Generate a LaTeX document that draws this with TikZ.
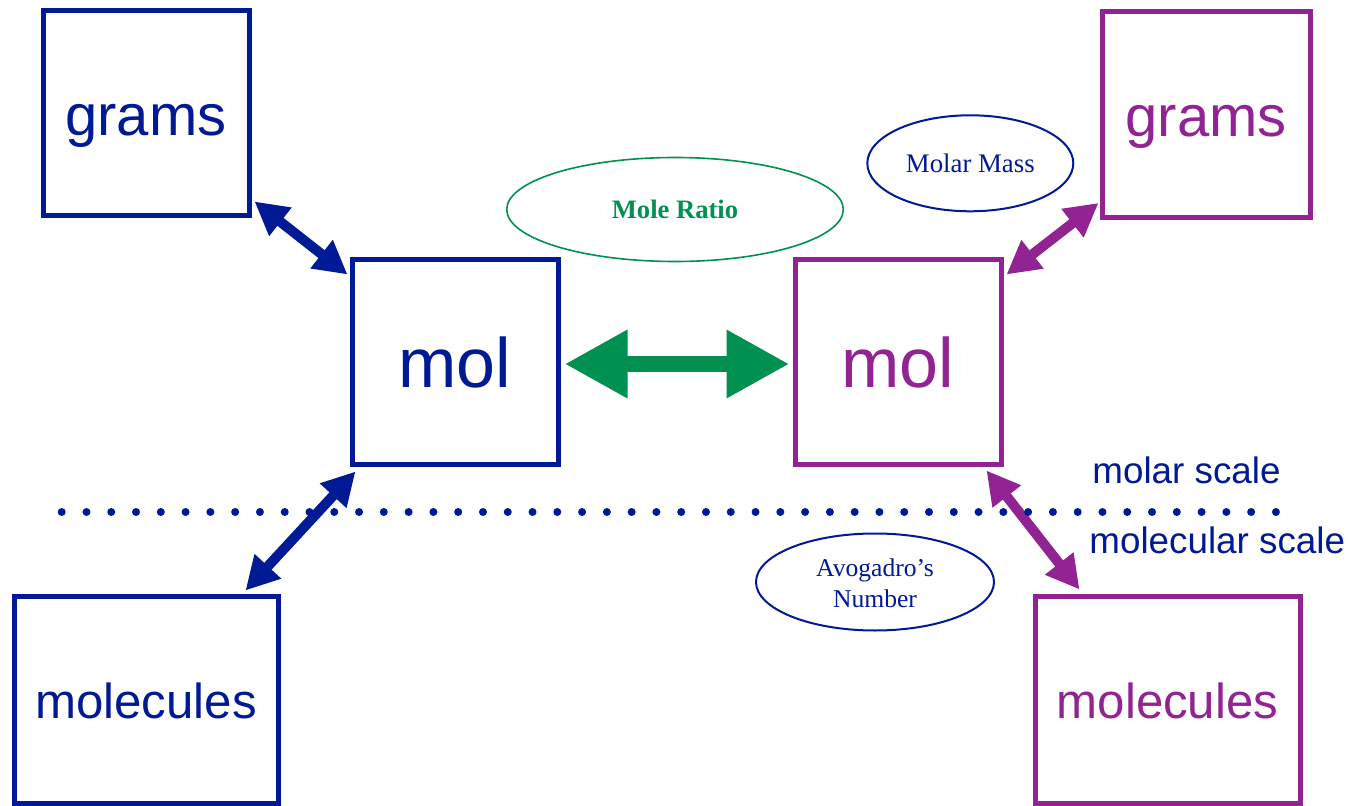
\documentclass[tikz,border=0pt]{standalone}
\usepackage{fontspec}
\setmainfont{Liberation Serif}
\setsansfont{Liberation Sans}
\usetikzlibrary{arrows.meta,shapes.geometric,calc}
\definecolor{cblue}{RGB}{0,25,148}
\definecolor{cpurple}{RGB}{146,35,146}
\definecolor{cgreen}{RGB}{0,145,80}
\begin{document}
\begin{tikzpicture}[x=0.5pt,y=-0.5pt,
  box/.style={draw, line width=2.5pt, inner sep=0pt, font=\sffamily},
  gramsbox/.style={box, minimum width=104pt, minimum height=103pt, text height=28pt, font=\sffamily\fontsize{29}{34}\selectfont},
  molbox/.style={box, minimum width=103pt, minimum height=102.5pt, font=\sffamily\fontsize{35}{40}\selectfont},
  molcbox/.style={box, minimum width=132.5pt, minimum height=103.5pt, text height=19.5pt, font=\sffamily\fontsize{24.6}{29}\selectfont},
  oval/.style={ellipse, draw, inner sep=0pt, line width=1pt},
  diag/.style={line width=5pt, {Triangle[length=16.5pt,width=17pt]}-{Triangle[length=16.5pt,width=17pt]}},
  big/.style={line width=8pt, {Triangle[length=31.5pt,width=32pt]}-{Triangle[length=31.5pt,width=32pt]}},
  scalelbl/.style={font=\sffamily\fontsize{18.4}{22}\selectfont, text=cblue, inner sep=0pt, anchor=base west}
]
\useasboundingbox (0,0) rectangle (1353,806);

% left (blue)
\node[gramsbox, draw=cblue, text=cblue, minimum width=103pt, minimum height=102.5pt] (lg) at (146,113.5) {grams};
\node[molbox, draw=cblue, text=cblue] (lm) at (455,362.5) {mol};
\node[molcbox, draw=cblue, text=cblue, minimum width=132pt] (lmc) at (146,699.5) {molecules};

% right (purple)
\node[gramsbox, draw=cpurple, text=cpurple] (rg) at (1206,114.5) {grams};
\node[molbox, draw=cpurple, text=cpurple] (rm) at (898,362.5) {mol};
\node[molcbox, draw=cpurple, text=cpurple] (rmc) at (1167.5,699.5) {molecules};

% ellipses
\node[oval, draw=cgreen, line width=0.8pt, minimum width=168.3pt, minimum height=52pt,
      font=\bfseries\fontsize{13.3}{15}\selectfont, text=cgreen] (ratio) at (675,209.5) {Mole Ratio};
\node[oval, draw=cblue, minimum width=103pt, minimum height=48pt,
      font=\fontsize{13.4}{15}\selectfont, text=cblue] (mass) at (970.3,163.3) {Molar Mass};
\node[oval, draw=cblue, minimum width=119pt, minimum height=48.5pt,
      font=\fontsize{12.8}{15}\selectfont, text=cblue] (avo) at (875,582)
      {\raisebox{-2pt}[\height][\depth]{\begin{tabular}{@{}c@{}}Avogadro’s\\Number\end{tabular}}};

% connectors
\draw[diag, cblue] ($(lg.south east)+(3,-17)$) -- ($(lm.north west)+(-2,17)$);
\draw[diag, cblue] ($(lm.south west)+(6,4)$) -- ($(lmc.north east)+(-35,-3)$);
\draw[diag, cpurple] ($(rg.south west)+(-1,-17)$) -- ($(rm.north east)+(3,17)$);
\draw[diag, cpurple] ($(rm.south east)+(-17,3)$) -- ($(rmc.north west)+(47,-4)$);
\draw[big, cgreen] ($(lm.east)+(4,1.5)$) -- ($(rm.west)+(-3,1.5)$);

% scale divider
\coordinate (dl) at (61.7,512);
\coordinate (dr) at (1276,512);
\draw[cblue, line width=4pt, line cap=round, dash pattern=on 0pt off 12.39pt] (dl) -- (dr);
\node[scalelbl] (molar) at (1092,483) {molar scale};
\node[scalelbl] (molec) at (1089,553) {molecular scale};
\end{tikzpicture}
\end{document}
